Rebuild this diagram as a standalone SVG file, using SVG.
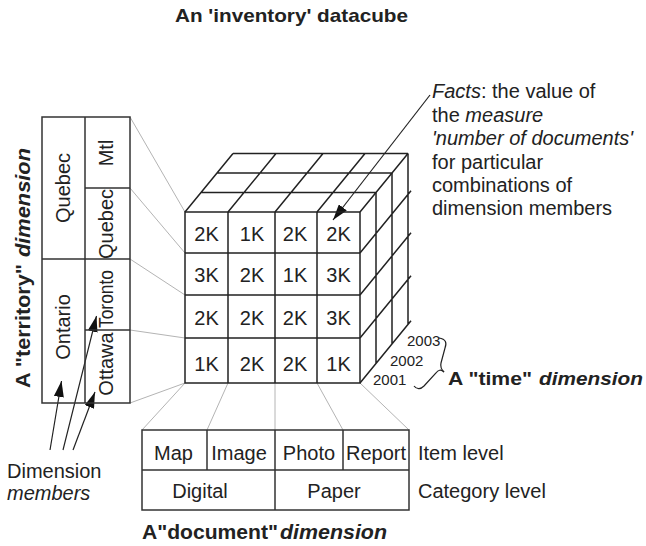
<svg xmlns="http://www.w3.org/2000/svg" width="646" height="546" viewBox="0 0 646 546">
  <style>
    text { font-family: "Liberation Sans", Arial, sans-serif; fill: #222; }
    .t20 { font-size: 20px; }
    .it { font-style: italic; }
    .bold { font-weight: bold; }
    .yr { font-size: 15px; }
    .cube { fill: none; stroke: #222; stroke-width: 1.5; }
    .box { fill: none; stroke: #333; stroke-width: 1.5; }
    .proj { fill: none; stroke: #b4b4b4; stroke-width: 1; }
    .ptr { fill: none; stroke: #222; stroke-width: 1.2; }
    .cell { font-size: 20px; text-anchor: middle; }
    .mid { text-anchor: middle; }
  </style>
  <defs>
    <marker id="head" viewBox="0 0 16 10" refX="16" refY="5" markerWidth="16" markerHeight="10" markerUnits="userSpaceOnUse" orient="auto">
      <path d="M0,0 L16,5 L0,10 Z" fill="#111"/>
    </marker>
  </defs>

  <!-- title -->
  <text x="175" y="22" class="bold" font-size="19" textLength="233" lengthAdjust="spacingAndGlyphs">An 'inventory' datacube</text>

  <!-- thin grey projection lines linking dimension tables to the cube -->
  <g id="connectors">
    <path class="proj" d="M130,117 L185,212 M130,188 L185,253 M130,259 L185,295 M130,330 L185,338 M130,403 L185,383"/>
    <path class="proj" d="M185,383 L142,430 M228,383 L207,430 M275,383 L275,430 M317,383 L343,430 M360,383 L409,430"/>
    <!-- pointer from the facts note to a cell -->
    <path class="ptr" d="M430,95 L333,220" marker-end="url(#head)"/>
    <!-- pointers from the "Dimension members" note -->
    <path class="ptr" d="M50,450 L61.5,381" marker-end="url(#head)"/>
    <path class="ptr" d="M63,450 L96.5,316" marker-end="url(#head)"/>
    <path class="ptr" d="M73,450 L95,392" marker-end="url(#head)"/>
  </g>

  <!-- the data cube -->
  <g id="cube">
    <!-- top face -->
    <path class="cube" d="M201,192.5 H376 M217,173 H392 M233,153.5 H408
                          M185,212 L233,153.5 M228,212 L276,153.5 M275,212 L323,153.5 M317,212 L365,153.5 M360,212 L408,153.5"/>
    <!-- right face -->
    <path class="cube" d="M376,192.5 V363.5 M392,173 V344 M408,153.5 V324.5
                          M360,253 L411,190.8 M360,295 L411,232.8 M360,338 L411,275.8 M360,383 L411,320.8"/>
    <!-- front face -->
    <rect class="cube" x="185" y="212" width="175" height="171"/>
    <path class="cube" d="M228,212 V383 M275,212 V383 M317,212 V383 M185,253 H360 M185,295 H360 M185,338 H360"/>
    <g id="facts">
      <text class="cell" x="206.5" y="241">2K</text>
      <text class="cell" x="252" y="241">1K</text>
      <text class="cell" x="295" y="241">2K</text>
      <text class="cell" x="338.5" y="241">2K</text>
      <text class="cell" x="206.5" y="282">3K</text>
      <text class="cell" x="252" y="282">2K</text>
      <text class="cell" x="295" y="282">1K</text>
      <text class="cell" x="338.5" y="282">3K</text>
      <text class="cell" x="206.5" y="325">2K</text>
      <text class="cell" x="252" y="325">2K</text>
      <text class="cell" x="295" y="325">2K</text>
      <text class="cell" x="338.5" y="325">3K</text>
      <text class="cell" x="206.5" y="371">1K</text>
      <text class="cell" x="252" y="371">2K</text>
      <text class="cell" x="295" y="371">2K</text>
      <text class="cell" x="338.5" y="371">1K</text>
    </g>
  </g>

  <!-- facts note -->
  <g id="facts-note" class="t20">
    <text x="432" y="98"><tspan class="it">Facts</tspan>: the value of</text>
    <text x="432" y="121.5">the <tspan class="it">measure</tspan></text>
    <text x="432" y="145" class="it">'number of documents'</text>
    <text x="432" y="168.5">for particular</text>
    <text x="432" y="192">combinations of</text>
    <text x="432" y="215">dimension members</text>
  </g>

  <!-- time dimension -->
  <g id="time-dimension">
    <text class="yr" x="407" y="346">2003</text>
    <text class="yr" x="390" y="366">2002</text>
    <text class="yr" x="373" y="385">2001</text>
    <path class="ptr" d="M439,338 C446,339 447,343 445,348 L441,363 C440,367 441,369 444,372"/>
    <path class="ptr" d="M414,386 C417,390 421,389 424,386 L436,373 C438,370 441,369 444,372"/>
    <text x="448" y="385" class="bold" font-size="19" textLength="84" lengthAdjust="spacingAndGlyphs">A "time"</text>
    <text x="539" y="385" class="bold it" font-size="19" textLength="104" lengthAdjust="spacingAndGlyphs">dimension</text>
  </g>

  <!-- territory dimension -->
  <g id="territory-dimension">
    <rect class="box" x="42" y="117" width="88" height="286"/>
    <path class="box" d="M85,117 V403 M42,259 H130 M85,188 H130 M85,330 H130"/>
    <text class="t20 mid" transform="translate(70,188) rotate(-90)">Quebec</text>
    <text class="t20 mid" transform="translate(70,327) rotate(-90)">Ontario</text>
    <text class="t20 mid" transform="translate(113,153) rotate(-90)">Mtl</text>
    <text class="t20 mid" transform="translate(113,224) rotate(-90)">Quebec</text>
    <text class="t20 mid" transform="translate(113,299) rotate(-90)" textLength="58" lengthAdjust="spacingAndGlyphs">Toronto</text>
    <text class="t20 mid" transform="translate(113,364) rotate(-90)">Ottawa</text>
    <text class="bold" font-size="21" transform="translate(30,388) rotate(-90)" textLength="124" lengthAdjust="spacingAndGlyphs">A "territory"</text>
    <text class="bold it" font-size="21" transform="translate(30,257) rotate(-90)" textLength="109" lengthAdjust="spacingAndGlyphs">dimension</text>
  </g>

  <!-- dimension members note -->
  <g id="members-note" class="t20">
    <text x="7" y="478">Dimension</text>
    <text x="7" y="500" class="it">members</text>
  </g>

  <!-- document dimension -->
  <g id="document-dimension">
    <rect class="box" x="142" y="430" width="267" height="80"/>
    <path class="box" d="M142,470 H409 M207,430 V470 M275,430 V510 M343,430 V470"/>
    <text class="t20 mid" x="173.5" y="460">Map</text>
    <text class="t20 mid" x="239" y="460">Image</text>
    <text class="t20 mid" x="309" y="460">Photo</text>
    <text class="t20 mid" x="376" y="460">Report</text>
    <text class="t20 mid" x="200" y="498">Digital</text>
    <text class="t20 mid" x="334" y="498">Paper</text>
    <text class="t20" x="418" y="460">Item level</text>
    <text class="t20" x="418" y="498">Category level</text>
    <text x="142" y="539" class="bold" font-size="20" textLength="136" lengthAdjust="spacingAndGlyphs">A"document"</text>
    <text x="280" y="539" class="bold it" font-size="20" textLength="107" lengthAdjust="spacingAndGlyphs">dimension</text>
  </g>
</svg>
